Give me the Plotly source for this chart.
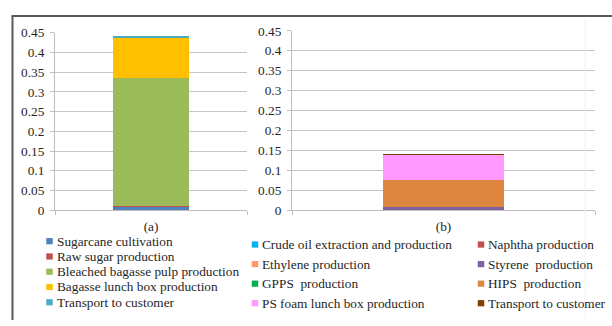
import plotly.graph_objects as go

# Panel (a): bagasse lunch box
cat_a = ["(a)"]
series_a = ["Sugarcane cultivation", "Raw sugar production",
            "Bleached bagasse pulp production", "Bagasse lunch box production",
            "Transport to customer"]
values_a = [0.009, 0.0015, 0.3245, 0.104, 0.0015]
colors_a = ["#4F81BD", "#C0504D", "#9BBB59", "#FFC000", "#4BACC6"]

# Panel (b): PS foam lunch box
cat_b = ["(b)"]
series_b = ["Crude oil extraction and production", "Naphtha production",
            "Ethylene production", "Styrene  production",
            "GPPS  production", "HIPS  production",
            "PS foam lunch box production", "Transport to customer"]
values_b = [0.0003, 0.0003, 0.0003, 0.0081, 0.0001, 0.0675, 0.0637, 0.0008]
colors_b = ["#00B0F0", "#C0504D", "#FF9966", "#7E62A0",
            "#00B050", "#DE863F", "#FF99FF", "#7F3F00"]

y_ticks = [0, 0.05, 0.1, 0.15, 0.2, 0.25, 0.3, 0.35, 0.4, 0.45]
y_labels = ["0", "0.05", "0.1", "0.15", "0.2", "0.25", "0.3", "0.35", "0.4", "0.45"]

W, H = 612, 326
FONT = "Liberation Serif"
TXT = "#262626"

def px(x):
    return x / W

def py(y):
    return 1 - y / H

fig = go.Figure()
for name, val, col in zip(series_a, values_a, colors_a):
    fig.add_trace(go.Bar(x=cat_a, y=[val], name=name, marker_color=col,
                         marker_line_width=0, xaxis="x", yaxis="y",
                         showlegend=False))
for name, val, col in zip(series_b, values_b, colors_b):
    fig.add_trace(go.Bar(x=cat_b, y=[val], name=name, marker_color=col,
                         marker_line_width=0, xaxis="x2", yaxis="y2",
                         showlegend=False))

axis_common = dict(showline=True, linecolor="#BFBFBF", linewidth=1,
                   tickfont=dict(family=FONT, size=13.3, color=TXT))
yax = dict(axis_common, range=[0, 0.45], tickvals=y_ticks, ticktext=y_labels,
           showgrid=True, gridcolor="#C4C4C4", gridwidth=1, zeroline=False,
           ticks="outside", ticklen=4, tickcolor="#BFBFBF",
           ticklabelstandoff=3, fixedrange=True)
xax = dict(axis_common, ticks="outside", tickson="boundaries", ticklen=4,
           tickcolor="#BFBFBF", showgrid=False, ticklabelstandoff=4)

shapes = []
annotations = []

# outer frame (left and top edges)
shapes.append(dict(type="line", xref="paper", yref="paper",
                   x0=px(12.5), x1=px(12.5), y0=py(9.5), y1=py(H + 2),
                   line=dict(color="#595959", width=2)))
shapes.append(dict(type="line", xref="paper", yref="paper",
                   x0=px(11.5), x1=px(W + 2), y0=py(9.5), y1=py(9.5),
                   line=dict(color="#595959", width=2)))
# faint edge of the second panel
shapes.append(dict(type="line", xref="paper", yref="paper",
                   x0=px(585), x1=px(585), y0=py(12), y1=py(H),
                   line=dict(color="#F2F2F2", width=1)))

def legend_entry(cx, cy, name, color):
    s = 6.5
    shapes.append(dict(type="rect", xref="paper", yref="paper",
                       x0=px(cx - s / 2), x1=px(cx + s / 2),
                       y0=py(cy + s / 2), y1=py(cy - s / 2),
                       fillcolor=color, line=dict(width=0)))
    annotations.append(dict(xref="paper", yref="paper", x=px(cx + 5), y=py(cy),
                            xanchor="left", yanchor="middle", showarrow=False,
                            text=name, font=dict(family=FONT, size=13.3, color=TXT)))

# legend for (a): single column
for i, (name, col) in enumerate(zip(series_a, colors_a)):
    legend_entry(49.5, 245.5 + 16 * i, name, col)

# legend for (b): two columns, row by row
for i, (name, col) in enumerate(zip(series_b, colors_b)):
    cx = 255 if i % 2 == 0 else 481
    legend_entry(cx, 249 + 20.5 * (i // 2), name, col)

fig.update_layout(
    width=W, height=H,
    margin=dict(l=0, r=0, t=0, b=0),
    paper_bgcolor="white", plot_bgcolor="white",
    barmode="stack", bargap=0.6,
    showlegend=False,
    font=dict(family=FONT),
    xaxis=dict(xax, domain=[px(55), px(247)], anchor="y"),
    yaxis=dict(yax, domain=[py(213), py(27)], anchor="x"),
    xaxis2=dict(xax, domain=[px(292), px(595)], anchor="y2"),
    yaxis2=dict(yax, domain=[py(213), py(25)], anchor="x2"),
    shapes=shapes,
    annotations=annotations,
)

fig.write_html("out.html")
